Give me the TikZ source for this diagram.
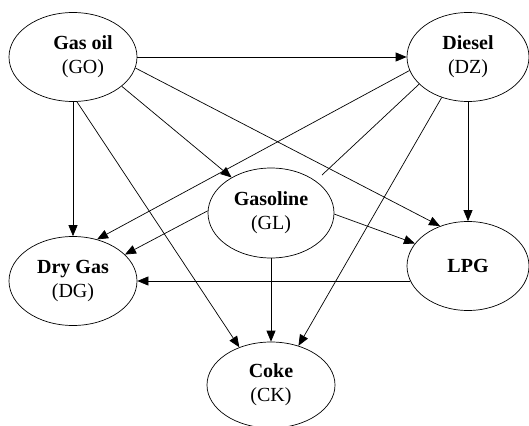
\documentclass[tikz,border=0pt]{standalone}
\usepackage{fontspec}
\setmainfont{Liberation Serif}
\usetikzlibrary{shapes.geometric,arrows.meta}
\tikzset{
  ell/.style={draw, ellipse, line width=0.7pt, inner sep=0pt, align=center,
    font=\fontsize{20}{24}\selectfont},
  arr/.style={-{Triangle[length=11pt,width=9pt]}, line width=0.7pt},
  plain/.style={line width=0.7pt}
}
\begin{document}
\begin{tikzpicture}[x=1pt,y=-1pt]
\clip (0,0) rectangle (529,425);
\useasboundingbox (0,0) rectangle (529,425);
\node[ell, minimum width=128pt, minimum height=89pt] (go) at (73,57) {\hspace*{20pt}\textbf{Gas oil}\\\hspace*{20pt}(GO)};
\node[ell, minimum width=122pt, minimum height=89pt] (dz) at (468,57) {\textbf{Diesel}\\(DZ)};
\node[ell, minimum width=126pt, minimum height=90pt] (gl) at (271,213) {\textbf{Gasoline}\\(GL)};
\node[ell, minimum width=128pt, minimum height=89pt] (dg) at (73,281) {\textbf{Dry Gas}\\(DG)};
\node[ell, minimum width=122pt, minimum height=89pt] (lpg) at (468,266) {\textbf{LPG}};
\node[ell, minimum width=128pt, minimum height=86pt] (ck) at (271,385) {\textbf{Coke}\\(CK)};
\coordinate (glstub) at (322,175);
% from Gas oil
\draw[arr] (go.east) -- (dz.west);
\draw[arr] (go.-31.5) -- (gl.138);
\draw[arr] (go.-10) -- (lpg.125.7);
\draw[arr] (go.south) -- (dg.north);
\draw[arr] (go.-85) -- (ck.130);
% from Diesel
\draw[arr] (dz.193) -- (dg.60);
\draw[plain] (dz.209) -- (glstub);
\draw[arr] (dz.237.6) -- (ck.55.6);
\draw[arr] (dz.south) -- (lpg.north);
% from Gasoline
\draw[arr] (gl.178) -- (dg.27);
\draw[arr] (gl.-1) -- (lpg.157);
\draw[arr] (gl.south) -- (ck.north);
% from LPG
\draw[arr] (lpg.195 |- dg.east) -- (dg.east);
\end{tikzpicture}
\end{document}
